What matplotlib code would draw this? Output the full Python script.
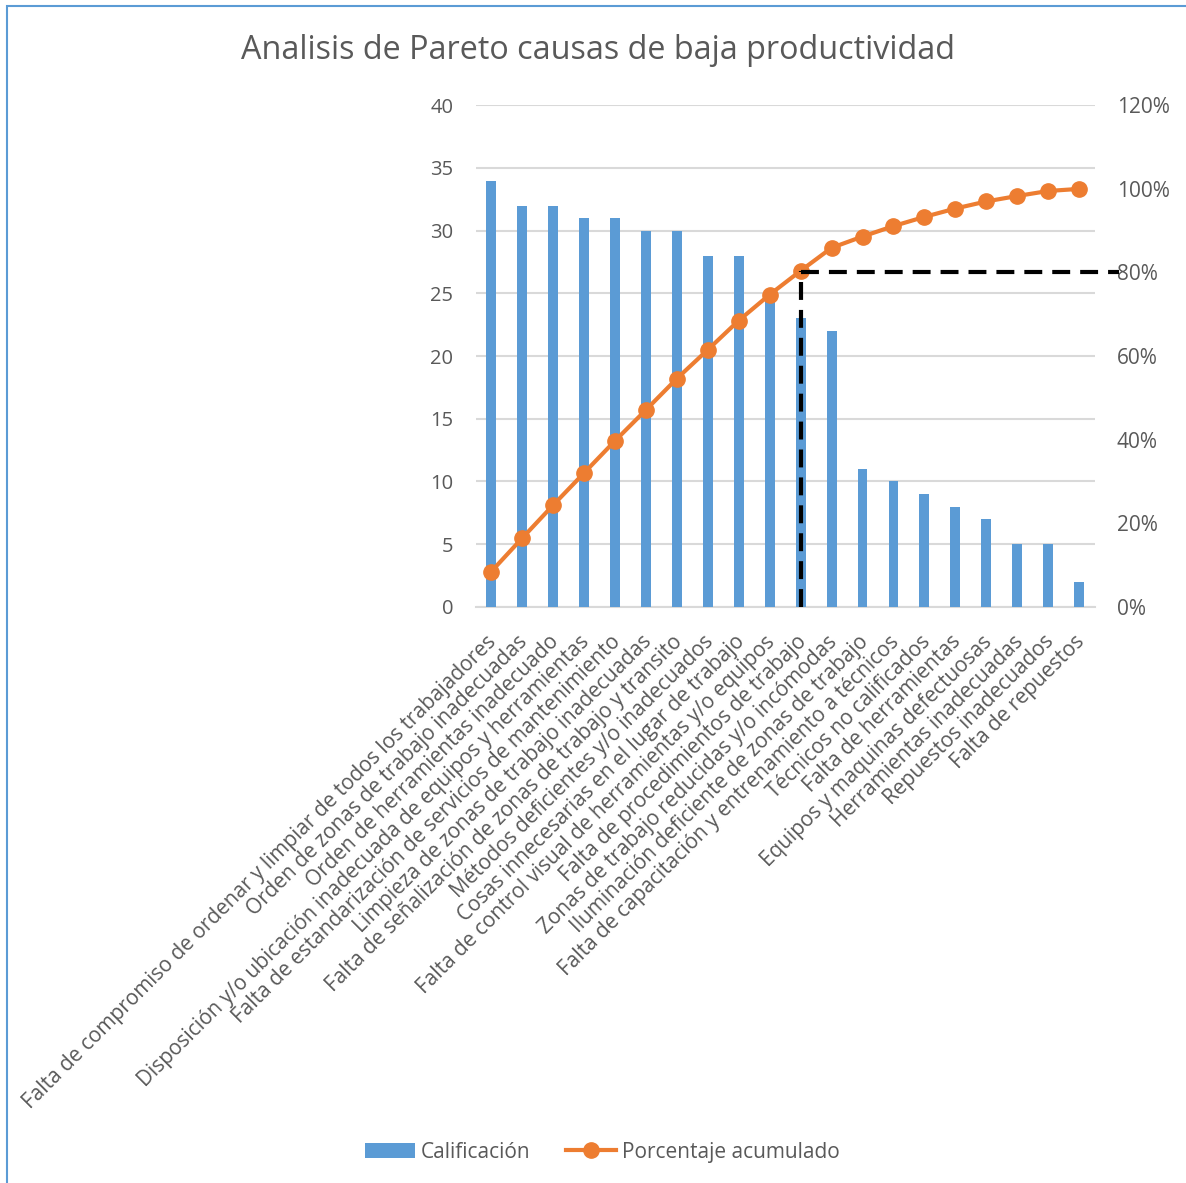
import numpy as np
import matplotlib
matplotlib.use('Agg')
import matplotlib.pyplot as plt
from matplotlib.patches import Rectangle
from matplotlib.transforms import ScaledTranslation

plt.rcParams['font.family'] = ['Open Sans', 'DejaVu Sans']

TITLE = 'Analisis de Pareto causas de baja productividad'

causas = [
    'Falta de compromiso de ordenar y limpiar de todos los trabajadores',
    'Orden de zonas de trabajo inadecuadas',
    'Orden de herramientas inadecuado',
    'Disposición y/o ubicación inadecuada de equipos y herramientas',
    'Falta de estandarización de servicios de mantenimiento',
    'Limpieza de zonas de trabajo inadecuadas',
    'Falta de señalización de zonas de trabajo y transito',
    'Métodos deficientes y/o inadecuados',
    'Cosas innecesarias en el lugar de trabajo',
    'Falta de control visual de herramientas y/o equipos',
    'Falta de procedimientos de trabajo',
    'Zonas de trabajo reducidas y/o incómodas',
    'Iluminación deficiente de zonas de trabajo',
    'Falta de capacitación y entrenamiento a técnicos',
    'Técnicos no calificados',
    'Falta de herramientas',
    'Equipos y maquinas defectuosas',
    'Herramientas inadecuadas',
    'Repuestos inadecuados',
    'Falta de repuestos',
]
calificacion = [34, 32, 32, 31, 31, 30, 30, 28, 28, 25,
                23, 22, 11, 10, 9, 8, 7, 5, 5, 2]
# porcentaje acumulado (%)
acumulado = [8.4, 16.4, 24.3, 32.0, 39.7, 47.1, 54.6, 61.5, 68.5, 74.7,
             80.4, 85.9, 88.6, 91.1, 93.3, 95.3, 97.0, 98.3, 99.5, 100.0]
corte = 80  # pareto cut line

BLUE = '#5B9BD5'
ORANGE = '#ED7D31'
GRAY = '#595959'
GRID = '#D9D9D9'

fig = plt.figure(figsize=(11.86, 11.83), dpi=100)
ax = fig.add_axes([0.401, 0.487, 0.522, 0.424])
ax2 = ax.twinx()

x = np.arange(len(causas))
ax.bar(x, calificacion, width=0.32, color=BLUE, zorder=3, label='Calificación')
ax.set_xlim(-0.5, len(causas) - 0.5)
ax.set_ylim(0, 40)
ax.set_yticks(np.arange(0, 41, 5))
ax.yaxis.grid(True, color=GRID, lw=1.5, zorder=0)
ax.set_axisbelow(True)
ax.set_xticks(x)
ax.set_xticklabels(causas, rotation=45, ha='right', va='top', fontsize=15, color=GRAY)
ax.tick_params(axis='y', length=0, colors=GRAY, labelsize=14.5, pad=16)
ax.tick_params(axis='x', length=0, pad=14)
# nudge category labels a bit right/down (after tick_params, which resets transforms)
shift = ScaledTranslation(10 / 100, -5 / 100, fig.dpi_scale_trans)
for lbl in ax.get_xticklabels():
    lbl.set_transform(lbl.get_transform() + shift)
for s in ['top', 'left', 'right']:
    ax.spines[s].set_visible(False)
ax.spines['bottom'].set_color(GRID)
ax.spines['bottom'].set_linewidth(1.5)

ax2.plot(x, acumulado, color=ORANGE, lw=3, marker='o', ms=11, zorder=4,
         label='Porcentaje acumulado')
ax2.set_ylim(0, 120)
ax2.set_yticks(np.arange(0, 121, 20))
ax2.set_yticklabels([f'{v}%' for v in range(0, 121, 20)])
ax2.tick_params(axis='y', length=0, colors=GRAY, labelsize=15, pad=16)
for s in ['top', 'left', 'right', 'bottom']:
    ax2.spines[s].set_visible(False)

# 80% cut
i80 = next(i for i, v in enumerate(acumulado) if v >= corte)
ax2.plot([i80, i80], [0, acumulado[i80]], color='black', lw=3,
         dashes=(4.3, 2.4), zorder=5)
ax2.axhline(corte, xmin=(i80 + 0.5) / len(causas), xmax=1.04, color='black',
            lw=3, dashes=(4.3, 2.4), clip_on=False, zorder=5)

fig.text(0.504, 0.957, TITLE, ha='center', va='center', fontsize=23.3, color=GRAY)

h1, l1 = ax.get_legend_handles_labels()
h2, l2 = ax2.get_legend_handles_labels()
fig.legend(h1 + h2, l1 + l2, loc='center', bbox_to_anchor=(0.508, 0.026),
           ncol=2, frameon=False, fontsize=15, labelcolor=GRAY,
           handlelength=2.4, handletextpad=0.3, columnspacing=1.7)

fig.patches.append(Rectangle((7 / 1186, -0.1), 1.2, 1.1 - 6 / 1183,
                             transform=fig.transFigure, fill=False,
                             ec=BLUE, lw=1.5))

fig.savefig('out.png', dpi=100)
